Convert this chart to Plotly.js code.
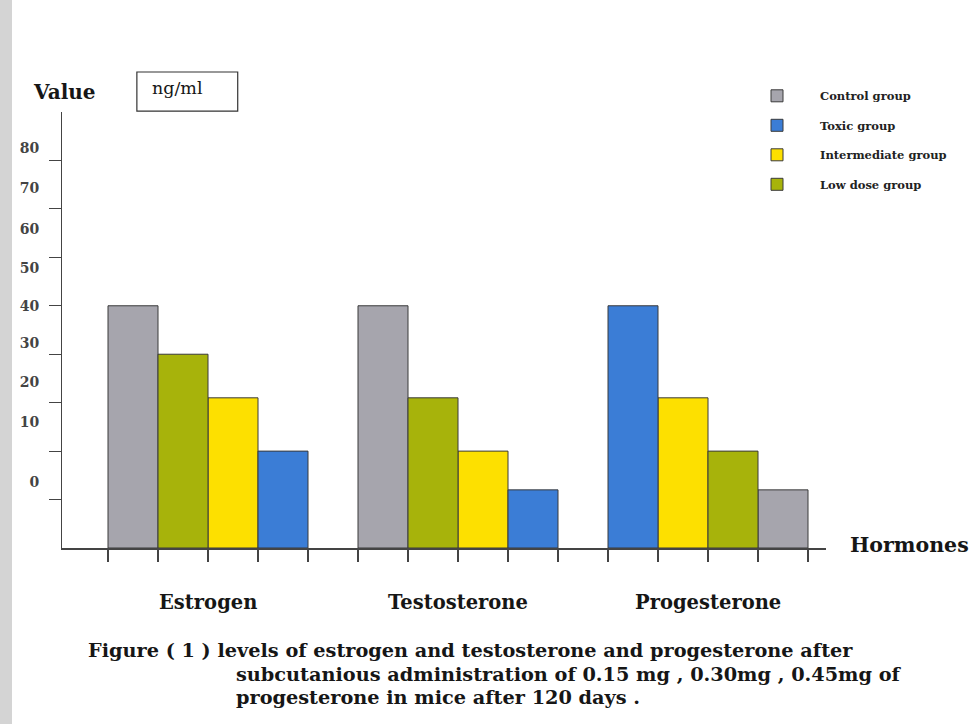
<!DOCTYPE html>
<html>
<head>
<meta charset="utf-8">
<script src="https://cdn.plot.ly/plotly-3.0.1.min.js"></script>
<style>
  html, body { margin: 0; padding: 0; background: #fff; }
  #chart { width: 972px; height: 724px; }
</style>
</head>
<body>
<div id="chart"></div>
<script>
// ---- data ----
const categories = ['Estrogen', 'Testosterone', 'Progesterone'];
const seriesNames = ['Control group', 'Toxic group', 'Intermediate group', 'Low dose group'];
const controlValues = [40, 40, 2];
const toxicValues = [10, 2, 40];
const intermediateValues = [21, 10, 21];
const lowDoseValues = [30, 21, 10];
// position of each series' bar inside each hormone group (0 = leftmost)
const controlSlots = [0, 0, 3];
const toxicSlots = [3, 3, 0];
const intermediateSlots = [2, 2, 1];
const lowDoseSlots = [1, 1, 2];
const yTickValues = [0, 10, 20, 30, 40, 50, 60, 70];
const yTickLabels = ['80', '70', '60', '50', '40', '30', '20', '10', '0'];
const yLabelSpots = [72.5, 64.3, 55.8, 47.8, 40, 32.2, 24.2, 15.9, 3.6];
const captionLines = [
  'Figure ( 1 ) levels of estrogen and testosterone and progesterone after',
  'subcutanious administration of 0.15 mg , 0.30mg , 0.45mg of',
  'progesterone in mice after 120 days .'
];

// ---- layout helpers ----
const GROUP_STEP = 5;          // 4 bars + 1 gap
const BARS_PER_GROUP = 4;
const FLOOR = -10;             // value at the drawn baseline
const colors = ['#a6a5ad', '#3b7dd6', '#fde000', '#a7b30b'];
const serif = 'DejaVu Serif, serif';

function xs(slots) { return slots.map((s, g) => g * GROUP_STEP + s); }
function mk(name, vals, slots, color, yax) {
  return {
    type: 'bar', name: name, legendgroup: name,
    x: xs(slots),
    y: vals.map(v => v - FLOOR),
    base: FLOOR,
    width: 1,
    yaxis: yax,
    marker: { color: color, line: { color: '#3a3a3a', width: 1 } },
    hovertemplate: name + ': %{customdata}<extra></extra>',
    customdata: vals
  };
}

const traces = [
  mk(seriesNames[0], controlValues, controlSlots, colors[0], 'y'),
  mk(seriesNames[1], toxicValues, toxicSlots, colors[1], 'y2'),
  mk(seriesNames[2], intermediateValues, intermediateSlots, colors[2], 'y'),
  mk(seriesNames[3], lowDoseValues, lowDoseSlots, colors[3], 'y')
];

const edgeTicks = [];
categories.forEach((c, g) => {
  for (let k = 0; k <= BARS_PER_GROUP; k++) edgeTicks.push(g * GROUP_STEP - 0.5 + k);
});

const ink = '#161616';
const annotations = [];
categories.forEach((c, g) => {
  annotations.push({
    text: '<b>' + c + '</b>', x: g * GROUP_STEP + 1.5, xref: 'x',
    y: -0.126, yref: 'paper', showarrow: false, xanchor: 'center', yanchor: 'middle',
    font: { family: serif, size: 19.5, color: ink }
  });
});
annotations.push({ text: '<b>Value</b>', x: 0.003, xref: 'paper', y: 1.046, yref: 'paper',
  showarrow: false, xanchor: 'center', yanchor: 'middle', font: { family: serif, size: 20, color: ink } });
annotations.push({ text: 'ng/ml', x: 0.151, xref: 'paper', y: 1.055, yref: 'paper',
  showarrow: false, xanchor: 'center', yanchor: 'middle', font: { family: serif, size: 17.5, color: ink } });
annotations.push({ text: '<b>Hormones</b>', x: 1.029, xref: 'paper', y: 0.007, yref: 'paper',
  showarrow: false, xanchor: 'left', yanchor: 'middle', font: { family: serif, size: 20.5, color: ink } });
const capX = [0.032, 0.2255, 0.2255];
const capY = [-0.234, -0.289, -0.342];
captionLines.forEach((t, i) => {
  annotations.push({ text: '<b>' + t + '</b>', x: capX[i], xref: 'paper', y: capY[i], yref: 'paper',
    showarrow: false, xanchor: 'left', yanchor: 'middle', font: { family: serif, size: 19.3, color: ink } });
});

const layout = {
  width: 972, height: 724,
  margin: { l: 62, r: 146, t: 112, b: 176 },
  paper_bgcolor: '#ffffff', plot_bgcolor: '#ffffff',
  barmode: 'overlay',
  showlegend: true,
  legend: {
    x: 0.8796, y: 1.0704, xanchor: 'left', yanchor: 'top',
    traceorder: 'grouped', tracegroupgap: 10.5,
    font: { family: serif, size: 11.5, color: '#222', weight: 'bold' },
    bgcolor: 'rgba(0,0,0,0)', itemwidth: 76
  },
  xaxis: {
    range: [-1.42, 13.86], tickvals: edgeTicks, showticklabels: false,
    ticks: 'outside', ticklen: 12, tickcolor: '#444', tickwidth: 1.2,
    showline: true, linecolor: '#444', linewidth: 1.5,
    showgrid: false, zeroline: false, fixedrange: true
  },
  yaxis: {
    range: [FLOOR, 80], tickvals: yTickValues, showticklabels: false,
    ticks: 'outside', ticklen: 12, tickcolor: '#444', tickwidth: 1.2,
    showline: true, linecolor: '#444', linewidth: 1.5,
    showgrid: false, zeroline: false, fixedrange: true
  },
  yaxis2: {
    overlaying: 'y', side: 'left', anchor: 'x',
    range: [FLOOR, 80], tickvals: yLabelSpots, ticktext: yTickLabels.map(t => '<b>' + t + '</b>'),
    ticks: 'outside', ticklen: 19, tickcolor: 'rgba(0,0,0,0)',
    tickfont: { family: serif, size: 14, color: '#444' },
    showline: false, showgrid: false, zeroline: false, fixedrange: true
  },
  shapes: [
    { type: 'rect', xref: 'paper', yref: 'paper', x0: 0.098, x1: 0.230, y0: 1.002, y1: 1.0917,
      line: { color: '#333', width: 1.2 }, fillcolor: 'rgba(0,0,0,0)' },
    { type: 'rect', xref: 'paper', yref: 'paper', x0: -62 / 764, x1: -50 / 764, y0: -176 / 436, y1: 1 + 112 / 436,
      line: { width: 0 }, fillcolor: '#d4d4d4', layer: 'below' }
  ],
  annotations: annotations
};

Plotly.newPlot('chart', traces, layout, { displayModeBar: false, staticPlot: true });
</script>
</body>
</html>
